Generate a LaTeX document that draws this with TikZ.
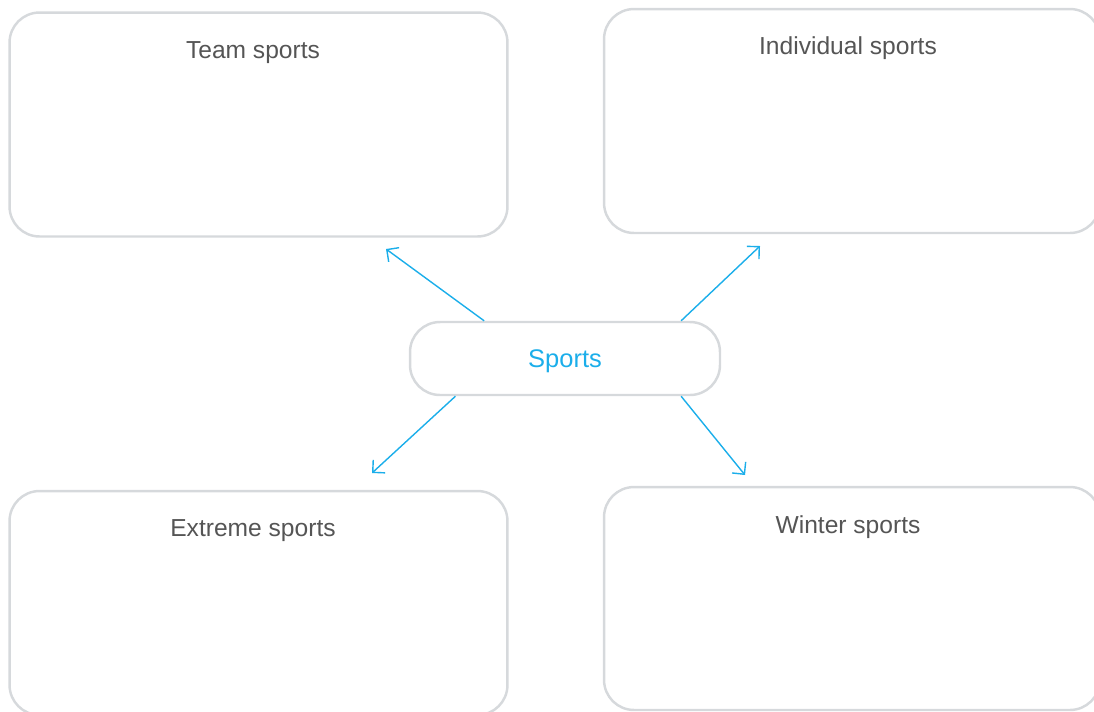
\documentclass[tikz,border=0pt]{standalone}
\usepackage{fontspec}
\setmainfont{Liberation Sans}
\usetikzlibrary{arrows.meta,positioning}
\definecolor{boxgray}{HTML}{D6D9DC}
\definecolor{textgray}{HTML}{555555}
\definecolor{skyblue}{HTML}{1BAEEA}
\tikzset{
  panel/.style={draw=boxgray, line width=1.4pt, rounded corners=0.6cm, minimum width=9.96cm, minimum height=4.48cm},
  heading/.style={text=textgray, font=\fontsize{14}{16}\selectfont, anchor=base, inner sep=0pt},
  link/.style={draw=skyblue, line width=0.8pt, -{Straight Barb[length=5pt,width=10pt]}}
}
\begin{document}
\begin{tikzpicture}[x=0.02cm, y=-0.02cm]
    % Page
    \useasboundingbox (0,0) rectangle (1094,711);
    \clip (0,0) rectangle (1094,711);

    % Boxes
    \node[panel] (team) at (258.5,124.5) {};
    \node[panel, minimum width=9.92cm] (indiv) at (852,121) {};
    \node[panel] (extreme) at (258.5,603) {};
    \node[panel, minimum width=9.92cm, minimum height=4.46cm] (winter) at (852,598.5) {};

    % Headings
    \node[heading] (teamtext) at ([xshift=-0.11cm, yshift=-0.94cm]team.north) {Team sports};
    \node[heading] (indivtext) at ([xshift=-0.08cm, yshift=-0.94cm]indiv.north) {Individual sports};
    \node[heading] (extremetext) at ([xshift=-0.11cm, yshift=-0.94cm]extreme.north) {Extreme sports};
    \node[heading] (wintertext) at ([xshift=-0.08cm, yshift=-0.96cm]winter.north) {Winter sports};

    % Centre
    \node[draw=boxgray, line width=1.4pt, rounded corners=0.6cm, minimum width=6.2cm, minimum height=1.46cm,
          text=skyblue, text depth=0pt, font=\fontsize{14.5}{17}\selectfont] (sports) at (565,358.5) {Sports};

    % Arrow tips
    \coordinate (teamtip) at (386,249);
    \coordinate (indivtip) at (760,246);
    \coordinate (extremetip) at (372,473);
    \coordinate (wintertip) at (745,475);

    % Arrows
    \draw[link] (sports.155) -- (teamtip);
    \draw[link] (sports.18) -- (indivtip);
    \draw[link] (sports.199) -- (extremetip);
    \draw[link] (sports.-18.7) -- (wintertip);
\end{tikzpicture}
\end{document}
